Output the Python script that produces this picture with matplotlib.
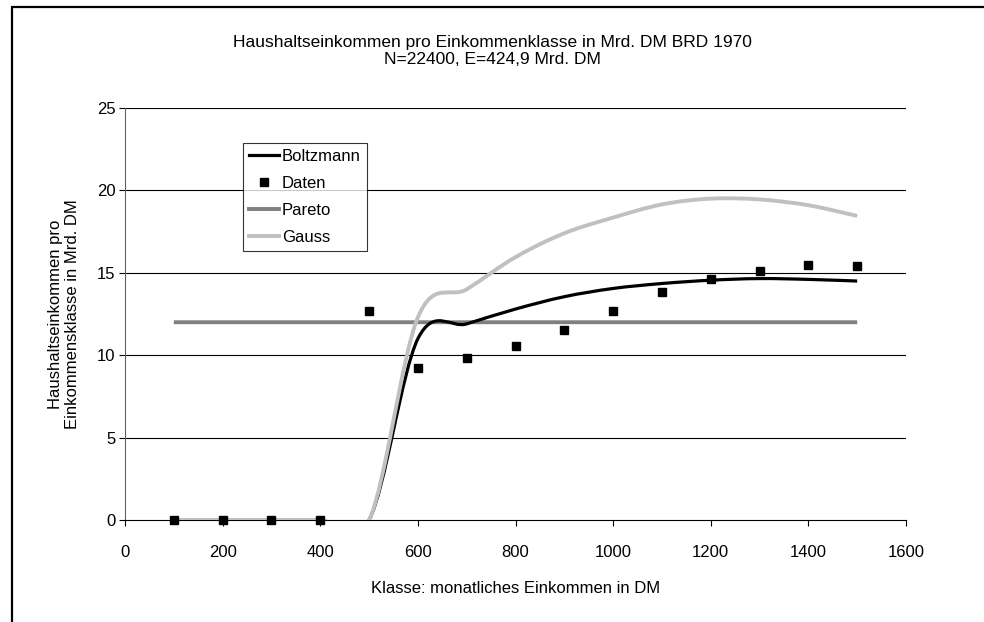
import matplotlib
matplotlib.use("Agg")
import matplotlib.pyplot as plt
from matplotlib.path import Path
from matplotlib.patches import PathPatch, Rectangle
from matplotlib.lines import Line2D
import numpy as np

plt.rcParams['font.family'] = ['Liberation Sans', 'DejaVu Sans']

# ---- data ----
klassen = [100, 200, 300, 400, 500, 600, 700, 800, 900, 1000, 1100, 1200, 1300, 1400, 1500]
daten = [0, 0, 0, 0, 12.7, 9.2, 9.8, 10.55, 11.5, 12.7, 13.85, 14.6, 15.1, 15.45, 15.4]
boltzmann = [0, 0, 0, 0, 0, 11.0, 11.9, 12.8, 13.55, 14.05, 14.35, 14.55, 14.65, 14.6, 14.5]
pareto = [12, 12, 12, 12, 12, 12, 12, 12, 12, 12, 12, 12, 12, 12, 12]
gauss = [0, 0, 0, 0, 0, 12.3, 14.0, 15.95, 17.4, 18.35, 19.15, 19.5, 19.45, 19.1, 18.45]

title1 = "Haushaltseinkommen pro Einkommenklasse in Mrd. DM BRD 1970"
title2 = "N=22400, E=424,9 Mrd. DM"
xlabel = "Klasse: monatliches Einkommen in DM"
ylabel = "Haushaltseinkommen pro\nEinkommensklasse in Mrd. DM"
xticks = [0, 200, 400, 600, 800, 1000, 1200, 1400, 1600]
yticks = [0, 5, 10, 15, 20, 25]


def smooth_path(xs, ys):
    """Excel-style smoothed line: cubic Bezier segments through the data nodes."""
    p = np.column_stack([xs, ys]).astype(float)
    n = len(p)
    verts = [tuple(p[0])]
    codes = [Path.MOVETO]
    for i in range(n - 1):
        p0 = p[i - 1] if i > 0 else p[i]
        p1 = p[i]
        p2 = p[i + 1]
        p3 = p[i + 2] if i + 2 < n else p[i + 1]
        c1 = p1 + (p2 - p0) / 6.0
        c2 = p2 - (p3 - p1) / 6.0
        verts += [tuple(c1), tuple(c2), tuple(p2)]
        codes += [Path.CURVE4] * 3
    return Path(verts, codes)


fig = plt.figure(figsize=(9.84, 6.22), dpi=100)
ax = fig.add_axes([125 / 984, 1 - 520 / 622, 781 / 984, 412 / 622])

# outer border
fig.patches.append(Rectangle((12 / 984, -0.05), 1.2, 1 - 7 / 622 + 0.05, transform=fig.transFigure,
                             fill=False, edgecolor='black', linewidth=1.6, zorder=0))

ax.set_xlim(0, 1600)
ax.set_ylim(0, 25)
for y in yticks[1:]:
    ax.axhline(y, color='black', linewidth=0.8, zorder=1)

c_boltz = 'black'
c_pareto = '#808080'
c_gauss = '#c0c0c0'

ax.add_patch(PathPatch(smooth_path(klassen, boltzmann), fill=False, edgecolor=c_boltz,
                       linewidth=2.3, zorder=3, capstyle='butt'))
ax.add_patch(PathPatch(smooth_path(klassen, pareto), fill=False, edgecolor=c_pareto,
                       linewidth=2.8, zorder=2.9, capstyle='butt'))
ax.add_patch(PathPatch(smooth_path(klassen, gauss), fill=False, edgecolor=c_gauss,
                       linewidth=2.8, zorder=4, capstyle='butt'))
ax.plot(klassen, daten, linestyle='none', marker='s', markersize=5.8, color='black', zorder=5,
        clip_on=False)

for s in ['top', 'right']:
    ax.spines[s].set_visible(False)
ax.spines['left'].set_color('#606060')
ax.spines['left'].set_linewidth(0.8)
ax.spines['bottom'].set_color('black')
ax.spines['bottom'].set_linewidth(0.8)

ax.set_xticks(xticks)
ax.set_yticks(yticks)
ax.tick_params(axis='both', direction='out', length=4, width=0.8, labelsize=12)
ax.tick_params(axis='x', pad=14)
ax.tick_params(axis='y', pad=3)
ax.set_xlabel(xlabel, fontsize=12, labelpad=15)
ax.set_ylabel(ylabel, fontsize=12, labelpad=12)

fig.text(492 / 984, 1 - 42 / 622, title1, ha='center', va='center', fontsize=12.5)
fig.text(492 / 984, 1 - 60 / 622, title2, ha='center', va='center', fontsize=12.5)

handles = [
    Line2D([], [], color=c_boltz, linewidth=2.3),
    Line2D([], [], color='black', marker='s', linestyle='none', markersize=5.8),
    Line2D([], [], color=c_pareto, linewidth=2.8),
    Line2D([], [], color=c_gauss, linewidth=2.8),
]
labels = ['Boltzmann', 'Daten', 'Pareto', 'Gauss']
leg = ax.legend(handles, labels, loc='upper left', bbox_to_anchor=(0.151, 0.915),
                borderaxespad=0, fontsize=12, frameon=True, fancybox=False,
                edgecolor='black', handlelength=1.8, handletextpad=0.2,
                labelspacing=0.72, borderpad=0.35)
leg.get_frame().set_linewidth(0.8)
leg.set_zorder(10)

fig.savefig('out.png', dpi=100, facecolor='white')
